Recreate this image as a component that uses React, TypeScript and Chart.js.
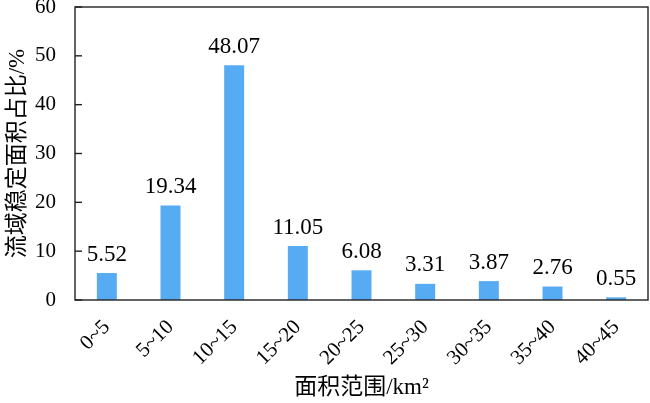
import React, { useEffect, useRef } from "react";
import { Chart, registerables } from "chart.js";

Chart.register(...registerables);

const categories = ["0~5", "5~10", "10~15", "15~20", "20~25", "25~30", "30~35", "35~40", "40~45"];
const shares = [5.52, 19.34, 48.07, 11.05, 6.08, 3.31, 3.87, 2.76, 0.55];
const yTickValues = [0, 10, 20, 30, 40, 50, 60];

const SERIF = "'Liberation Serif', 'Times New Roman', 'Noto Sans CJK SC', serif";

const framePlugin = {
  id: "frameAndLabels",
  afterDatasetsDraw(chart: any) {
    const { ctx, chartArea } = chart;
    const yScale = chart.scales.y;
    ctx.save();
    const meta = chart.getDatasetMeta(0);
    ctx.fillStyle = "#000";
    ctx.font = `23px ${SERIF}`;
    ctx.textAlign = "center";
    ctx.textBaseline = "bottom";
    meta.data.forEach((bar: any, i: number) => {
      ctx.fillText(shares[i].toFixed(2), bar.x, bar.y - 7);
    });
    ctx.strokeStyle = "#222";
    ctx.lineWidth = 1.4;
    ctx.strokeRect(chartArea.left, chartArea.top, chartArea.right - chartArea.left, chartArea.bottom - chartArea.top);
    yTickValues.forEach((v) => {
      const y = yScale.getPixelForValue(v);
      ctx.beginPath();
      ctx.moveTo(chartArea.left, y);
      ctx.lineTo(chartArea.left + 7, y);
      ctx.stroke();
    });
    ctx.restore();
  },
};

export default function App() {
  const ref = useRef<HTMLCanvasElement | null>(null);

  useEffect(() => {
    document.body.style.margin = "0";
    if (!ref.current) return;
    const chart = new Chart(ref.current, {
      type: "bar",
      data: {
        labels: categories,
        datasets: [
          {
            data: shares,
            backgroundColor: "#57abf2",
            borderWidth: 0,
            categoryPercentage: 1,
            barPercentage: 0.314,
          },
        ],
      },
      options: {
        responsive: false,
        animation: false,
        devicePixelRatio: 1,
        layout: { padding: { left: 4, right: 2, top: 7, bottom: 0 } },
        plugins: {
          legend: { display: false },
          tooltip: { enabled: false },
        },
        scales: {
          x: {
            grid: { display: false },
            border: { display: false },
            ticks: {
              color: "#000",
              font: { family: SERIF, size: 21 },
              minRotation: 45,
              maxRotation: 45,
              padding: 7,
            },
            title: {
              display: true,
              text: "面积范围/km²",
              color: "#000",
              font: { family: SERIF, size: 23 },
              padding: { top: 0, bottom: 1 },
            },
            afterFit(scale: any) {
              scale.height = 103;
              scale.paddingLeft = 0;
              scale.paddingRight = 0;
            },
          },
          y: {
            min: 0,
            max: 60,
            grid: { display: false },
            border: { display: false },
            ticks: {
              stepSize: 10,
              color: "#000",
              font: { family: SERIF, size: 21 },
              padding: 11,
            },
            title: {
              display: true,
              text: "流域稳定面积占比/%",
              color: "#000",
              font: { family: SERIF, size: 23 },
              padding: { top: 0, bottom: 0 },
            },
            afterFit(scale: any) {
              scale.width = 71;
              scale.paddingTop = 0;
              scale.paddingBottom = 0;
            },
          },
        },
      },
      plugins: [framePlugin],
    });
    return () => chart.destroy();
  }, []);

  return (
    <div style={{ position: "absolute", left: 0, top: 0, width: 650, height: 403 }}>
      <canvas ref={ref} width={650} height={403} />
    </div>
  );
}
